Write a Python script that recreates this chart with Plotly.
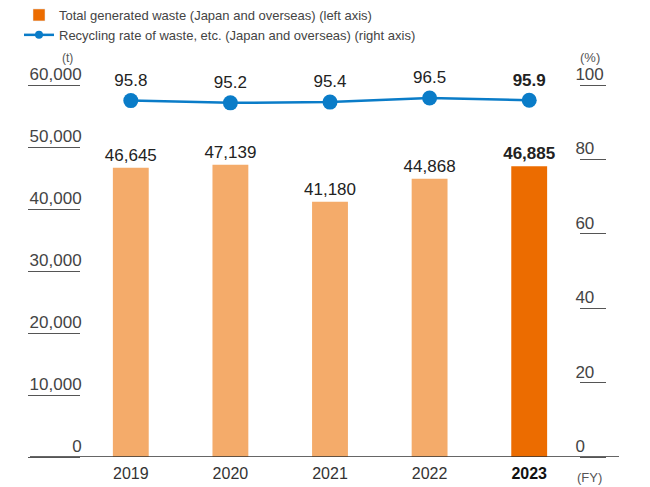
import plotly.graph_objects as go

# Fiscal years and values
years = ["2019", "2020", "2021", "2022", "2023"]
waste_t = [46645, 47139, 41180, 44868, 46885]
recycling_pct = [95.8, 95.2, 95.4, 96.5, 95.9]

left_ticks = [0, 10000, 20000, 30000, 40000, 50000, 60000]
right_ticks = [0, 20, 40, 60, 80, 100]

bar_light = "#F4AB6A"
bar_dark = "#EC6C00"
line_blue = "#0A7CC8"
FONT = "Liberation Sans, Arial, Helvetica, sans-serif"

latest = len(years) - 1
bar_colors = [bar_dark if i == latest else bar_light for i in range(len(years))]
bar_text = [
    f"<b>{v:,}</b>" if i == latest else f"{v:,}" for i, v in enumerate(waste_t)
]
line_text = [
    f"<b>{v:.1f}</b>" if i == latest else f"{v:.1f}" for i, v in enumerate(recycling_pct)
]
tick_text = [
    f"<b><span style='color:#111'>{y}</span></b>" if i == latest else y
    for i, y in enumerate(years)
]

fig = go.Figure()

fig.add_trace(go.Bar(
    x=years, y=waste_t,
    marker=dict(color=bar_colors, line=dict(width=0)),
    width=0.36,
    text=bar_text, textposition="outside", constraintext="none",
    textfont=dict(family=FONT, size=17, color="#222"),
    cliponaxis=False, showlegend=False, hoverinfo="skip",
))

fig.add_trace(go.Scatter(
    x=years, y=recycling_pct, yaxis="y2",
    mode="lines+markers+text",
    line=dict(color=line_blue, width=2.5),
    marker=dict(color=line_blue, size=15),
    text=line_text, textposition="top center",
    textfont=dict(family=FONT, size=17, color="#222"),
    cliponaxis=False, showlegend=False, hoverinfo="skip",
))

# legend entries
fig.add_trace(go.Bar(
    x=[None], y=[None], marker=dict(color=bar_dark),
    name="Total generated waste (Japan and overseas) (left axis)",
))
fig.add_trace(go.Scatter(
    x=[None], y=[None], mode="lines+markers",
    line=dict(color=line_blue, width=2.5), marker=dict(color=line_blue, size=8),
    name="Recycling rate of waste, etc. (Japan and overseas) (right axis)",
))

fig.update_layout(
    width=650, height=487,
    margin=dict(l=81, r=71, t=85, b=30, autoexpand=False),
    paper_bgcolor="white", plot_bgcolor="white",
    font=dict(family=FONT, color="#444"),
    bargap=0.64,
    legend=dict(
        x=19 / 650, xref="container", y=1.0 + 2 / 487, yref="container",
        xanchor="left", yanchor="top",
        font=dict(family=FONT, size=13, color="#444"),
        itemwidth=30, tracegroupgap=0, bgcolor="rgba(0,0,0,0)",
    ),
    xaxis=dict(
        type="category", tickvals=years, ticktext=tick_text,
        showline=False, showgrid=False, zeroline=False, ticks="",
        tickangle=0, ticklabelstandoff=5,
        tickfont=dict(family=FONT, size=16, color="#333"),
    ),
    yaxis=dict(
        range=[0, 60000], tickvals=left_ticks,
        ticktext=[f"{v:,}" for v in left_ticks],
        showgrid=False, zeroline=False, showline=False,
        ticks="outside", ticklen=52, tickwidth=1.2, tickcolor="#555",
        ticklabelstandoff=-57, ticklabelshift=-11,
        tickfont=dict(family=FONT, size=17, color="#444"),
    ),
    yaxis2=dict(
        range=[0, 100], tickvals=right_ticks,
        overlaying="y", side="right",
        showgrid=False, zeroline=False, showline=False,
        ticks="outside", ticklen=26, tickwidth=1.2, tickcolor="#555",
        ticklabelstandoff=-34, ticklabelshift=-11,
        tickfont=dict(family=FONT, size=17, color="#444"),
    ),
)

# baseline under the bars, spanning both tick columns
fig.add_shape(
    type="line", xref="paper", yref="y",
    x0=(30 - 81) / 498, x1=(619 - 81) / 498, y0=0, y1=0,
    line=dict(color="#333", width=1.3), layer="above",
)

# unit labels
fig.add_annotation(text="(t)", xref="paper", yref="paper", x=(67 - 81) / 498, y=1.0,
                   xanchor="center", yanchor="middle", yshift=27, showarrow=False,
                   font=dict(family=FONT, size=12, color="#555"))
fig.add_annotation(text="(%)", xref="paper", yref="paper", x=(590 - 81) / 498, y=1.0,
                   xanchor="center", yanchor="middle", yshift=28, showarrow=False,
                   font=dict(family=FONT, size=13, color="#555"))
fig.add_annotation(text="(FY)", xref="paper", yref="paper", x=(589 - 81) / 498, y=0,
                   xanchor="center", yanchor="middle", yshift=-20, showarrow=False,
                   font=dict(family=FONT, size=13, color="#555"))

fig.write_html("out.html")
